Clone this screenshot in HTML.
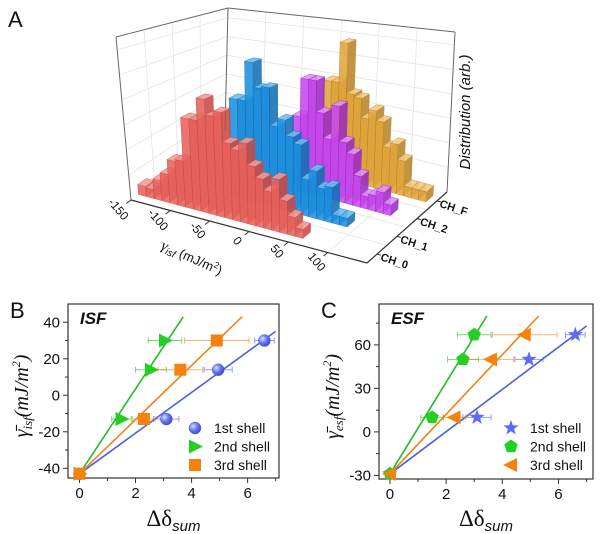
<!DOCTYPE html>
<html><head><meta charset="utf-8"><style>
html,body{margin:0;padding:0;background:#fff;}
svg{display:block;font-family:"Liberation Sans",sans-serif;}
</style></head><body>
<svg id="fig" width="600" height="534" viewBox="0 0 600 534">
<g id="pa"></g>
<g id="pb"></g>
<g id="pc"></g>
</svg>
<script>
// ---------- Panel A data ----------
const seriesNames = ["CH_0","CH_1","CH_2","CH_F"];
const seriesStart = [-150,-60,-10,0];
const binWidth = 10;
const redHeights = [10,9,20,28,43,45,88,88,110,95,100,72,67,75,55,45,35,48,30,17,8];
const blueHeights = [100,100,140,115,117,80,88,73,67,35,45,30,33,8,8];
const magentaHeights = [77,117,117,85,60,95,60,50,30,12,15,20,10];
const goldHeights = [103,103,147,93,90,70,80,70,45,50,35,10,10,10];
const xTicksA = [-150,-100,-50,0,50,100];

// ---------- Panel B data ----------
const bShell1X = [0,3.1,4.95,6.6];
const bShell1Y = [-43,-13,14,30];
const bShell1Err = [0,0.45,0.5,0.35];
const bShell2X = [0,1.5,2.55,3.05];
const bShell2Y = [-43,-13,14,30];
const bShell2Err = [0,0.35,0.55,0.6];
const bShell3X = [0,2.3,3.6,4.9];
const bShell3Y = [-43,-13,14,30];
const bShell3Err = [0,0.4,0.8,1.15];
const bFitEnd = [[7.0,35],[3.7,43],[5.8,43]];
const bYTicks = [-40,-20,0,20,40];
const bXTicks = [0,2,4,6];

// ---------- Panel C data ----------
const cShell1X = [0,3.1,4.95,6.6];
const cShell1Y = [-29,10,50,67];
const cShell1Err = [0,0.5,0.5,0.35];
const cShell2X = [0,1.5,2.6,3.0];
const cShell2Y = [-29,10,50,67];
const cShell2Err = [0,0.4,0.55,0.6];
const cShell3X = [0,2.3,3.6,4.8];
const cShell3Y = [-29,10,50,67];
const cShell3Err = [0,0.4,0.8,1.15];
const cFitEnd = [[7.0,73],[3.45,80],[5.3,80]];
const cYTicks = [-30,0,30,60];
const cXTicks = [0,2,4,6];

const NS="http://www.w3.org/2000/svg";
function mk(tag,attrs,parent){const e=document.createElementNS(NS,tag);for(const k in attrs)e.setAttribute(k,attrs[k]);parent.appendChild(e);return e;}

// ================= Panel A =================
const pa=document.getElementById('pa');
const C={P000:[131,200],P100:[367,263],P010:[225,130],P110:[447,192],P001:[116,37],P101:[375,70],P011:[228,8],P111:[455,32]};
function P3(x,d,z){
  const t=(x+150)/300,u=d,v=z/163;
  const r=[0,0];
  for(let i=0;i<2;i++){
    const a=C.P000[i]*(1-t)+C.P100[i]*t, b=C.P010[i]*(1-t)+C.P110[i]*t;
    const c=C.P001[i]*(1-t)+C.P101[i]*t, e=C.P011[i]*(1-t)+C.P111[i]*t;
    const lo=a*(1-u)+b*u, hi=c*(1-u)+e*u;
    r[i]=lo*(1-v)+hi*v;
  }
  return r;
}
function pts(arr){return arr.map(p=>p[0].toFixed(1)+","+p[1].toFixed(1)).join(" ");}
function line3(a,b,attrs,name){const p=P3(...a),q=P3(...b);const l=mk('line',Object.assign({x1:p[0],y1:p[1],x2:q[0],y2:q[1]},attrs),pa);return l;}
const gridS={stroke:'#e4e4e4','stroke-width':0.8};
// grids
for(const z of [25,50,75,100,125,150]){line3([-150,1,z],[150,1,z],gridS,'back-wall-gridline');line3([-150,0,z],[-150,1,z],gridS,'left-wall-gridline');}
for(const x of [-100,-50,0,50,100]){line3([x,1,0],[x,1,163],gridS,'back-wall-gridline');line3([x,0,0],[x,1,0],gridS,'floor-gridline');}
for(const d of [0.25,0.5,0.75]){line3([-150,d,0],[-150,d,163],gridS,'left-wall-gridline');line3([-150,d,0],[150,d,0],gridS,'floor-gridline');}
// wall edges
const edge={stroke:'#666','stroke-width':1};
line3([-150,0,0],[-150,0,163],edge,'left-wall-edge');
line3([-150,0,163],[-150,1,163],edge,'left-wall-top-edge');
line3([-150,1,0],[-150,1,163],edge,'back-corner-edge');
line3([-150,1,163],[150,1,163],edge,'back-wall-top-edge');
line3([150,1,0],[150,1,163],edge,'back-wall-right-edge');
line3([150,1,0],[150,0,0],{stroke:'#333','stroke-width':1.2},'depth-axis');

const colors=[['#e8625c','#c94b46','#f29a95'],['#1c90e2','#1470b5','#6cbcf0'],['#c848f0','#9c2cc0','#df90f8'],['#e2a63a','#b9852a','#f2cc80']];
const allH=[redHeights,blueHeights,magentaHeights,goldHeights];
const depthC=[0.125,0.375,0.625,0.875];
for(let s=3;s>=0;s--){
  const g=mk('g',{},pa);
  
  
  const hs=allH[s];
  for(let i=0;i<hs.length;i++){
    const x0=seriesStart[s]+i*binWidth,x1=x0+binWidth,d0=depthC[s]-0.045,d1=depthC[s]+0.045,h=hs[i];
    const bg=mk('g',{opacity:0.88},g);
    
    
    mk('polygon',{points:pts([P3(x0,d0,0),P3(x1,d0,0),P3(x1,d0,h),P3(x0,d0,h)]),fill:colors[s][0],stroke:colors[s][1],'stroke-width':0.5},bg);
    mk('polygon',{points:pts([P3(x1,d0,0),P3(x1,d1,0),P3(x1,d1,h),P3(x1,d0,h)]),fill:colors[s][1],stroke:colors[s][1],'stroke-width':0.5},bg);
    mk('polygon',{points:pts([P3(x0,d0,h),P3(x1,d0,h),P3(x1,d1,h),P3(x0,d1,h)]),fill:colors[s][2],stroke:colors[s][1],'stroke-width':0.5},bg);
  }
}
line3([-150,0,0],[150,0,0],{stroke:'#333','stroke-width':1.2},'x-axis-a');
for(const xt of xTicksA){
  line3([xt,0,0],[xt,-0.05,0],{stroke:'#333','stroke-width':1},'x-tick-a');
  const p=P3(xt,-0.14,0);
  const t=mk('text',{x:p[0],y:p[1],'font-size':12,'text-anchor':'middle','dominant-baseline':'middle',transform:`rotate(50 ${p[0]} ${p[1]})`,fill:'#111'},pa);
  t.textContent=xt;
  
  
}
for(let s=0;s<4;s++){
  line3([150,depthC[s],0],[155,depthC[s],0],{stroke:'#333','stroke-width':1},'depth-tick');
  const p=P3(172,depthC[s],0);
  const t=mk('text',{x:p[0],y:p[1]+3,'font-size':11,'font-weight':'bold','text-anchor':'middle','dominant-baseline':'middle',transform:`rotate(18 ${p[0]} ${p[1]+3})`,fill:'#111'},pa);
  t.textContent=seriesNames[s];
  
  
}
</script>
<script>
// static labels for panel A
(function(){
const pa=document.getElementById('pa');
pa.insertAdjacentHTML('beforeend',
`<text x="8" y="27" font-size="22" fill="#111">A</text>
<text x="190" y="262" font-size="13" fill="#111" text-anchor="middle" transform="rotate(24 190 262)"><tspan font-family="Liberation Serif,serif" font-style="italic" font-size="15">γ</tspan><tspan font-style="italic" font-size="10" dy="3">isf</tspan><tspan dy="-3"> (mJ/m</tspan><tspan font-size="9" dy="-5">2</tspan><tspan dy="5">)</tspan></text>
<text x="0" y="0" font-size="15" font-style="italic" fill="#111" text-anchor="middle" transform="translate(470 112) rotate(-90)">Distribution (arb.)</text>`);
})();
</script>
<script>
// ================= Panels B & C =================
function makePanel(gid,box,xr,yr,yTicks,xTicks,minorY,series,fits,letter,tag,ytitleSub,legendX,markerKinds){
  const g=document.getElementById(gid);
  const sx=v=>box.l+(v-xr[0])/(xr[1]-xr[0])*(box.r-box.l);
  const sy=v=>box.b-(v-yr[0])/(yr[1]-yr[0])*(box.b-box.t);
  const fr=mk('rect',{x:box.l,y:box.t,width:box.r-box.l,height:box.b-box.t,fill:'none',stroke:'#333','stroke-width':1.2},g);
  
  
  for(const v of yTicks){
    const tk=mk('line',{x1:box.l,y1:sy(v),x2:box.l-5,y2:sy(v),stroke:'#333','stroke-width':1},g);
    
    
    const t=mk('text',{x:box.l-8,y:sy(v)+5,'font-size':15,'text-anchor':'end',fill:'#111'},g);
    t.textContent=v;
    
    
  }
  for(const v of minorY){
    const tk=mk('line',{x1:box.l,y1:sy(v),x2:box.l-3,y2:sy(v),stroke:'#333','stroke-width':1},g);
    
    
  }
  for(const v of xTicks){
    const tk=mk('line',{x1:sx(v),y1:box.b,x2:sx(v),y2:box.b+5,stroke:'#333','stroke-width':1},g);
    
    
    const m=mk('line',{x1:sx(v+1),y1:box.b,x2:sx(v+1),y2:box.b+3,stroke:'#333','stroke-width':1},g);
    
    
    const t=mk('text',{x:sx(v),y:box.b+20,'font-size':15,'text-anchor':'middle',fill:'#111'},g);
    t.textContent=v;
    
    
  }
  const cols=['#4a5fe0','#22bb22','#f28014'];
  const fills=['#5b6cf5','#22d022','#f5820f'];
  // fit lines
  fits.forEach((f,k)=>{
    const l=mk('line',{x1:sx(0),y1:sy(series[k].y[0]),x2:sx(f[0]),y2:sy(f[1]),stroke:cols[k],'stroke-width':1.6},g);
    
    
  });
  function marker(kind,cx,cy,k,parent){
    let e;
    if(kind==='circle'){e=mk('circle',{cx,cy,r:6,fill:'url(#sph)',stroke:'#4a5fe0','stroke-width':0.5},parent);}
    else if(kind==='tri-right'){e=mk('polygon',{points:`${cx-6},${cy-7} ${cx+8},${cy} ${cx-6},${cy+7}`,fill:fills[k]},parent);}
    else if(kind==='tri-left'){e=mk('polygon',{points:`${cx+6},${cy-7} ${cx-8},${cy} ${cx+6},${cy+7}`,fill:fills[k]},parent);}
    else if(kind==='square'){e=mk('rect',{x:cx-6,y:cy-6,width:12,height:12,fill:fills[k]},parent);}
    else if(kind==='pent'){let p=[];for(let i=0;i<5;i++){const a=-Math.PI/2+i*2*Math.PI/5;p.push((cx+7*Math.cos(a)).toFixed(1)+","+(cy+7*Math.sin(a)).toFixed(1));}e=mk('polygon',{points:p.join(' '),fill:fills[k]},parent);}
    else {let p=[];for(let i=0;i<10;i++){const a=-Math.PI/2+i*Math.PI/5,r=i%2?3.3:8;p.push((cx+r*Math.cos(a)).toFixed(1)+","+(cy+r*Math.sin(a)).toFixed(1));}e=mk('polygon',{points:p.join(' '),fill:fills[k]},parent);}
    return e;
  }
  series.forEach((s,k)=>{
    const sg=mk('g',{},g);
    
    
    for(let i=0;i<s.x.length;i++){
      const cy=sy(s.y[i]);
      if(s.e[i]>0){
        const a=sx(s.x[i]-s.e[i]),b=sx(s.x[i]+s.e[i]);
        const eb=mk('path',{d:`M${a},${cy}H${b}M${a},${cy-3}V${cy+3}M${b},${cy-3}V${cy+3}`,stroke:cols[k],'stroke-width':1,'stroke-opacity':0.6,fill:'none'},sg);
        
        
      }
      const m=marker(markerKinds[k],sx(s.x[i]),cy,k,sg);
      
      
    }
  });
  const names=['1st  shell','2nd shell','3rd  shell'];
  for(let k=0;k<3;k++){
    const y=428+k*18.5;
    const lg=mk('g',{},g);
    
    
    marker(markerKinds[k],legendX,y,k,lg);
    const t=mk('text',{x:legendX+19,y:y+5,'font-size':14,fill:'#111','xml:space':'preserve'},lg);
    t.textContent=names[k];
  }
  g.insertAdjacentHTML('beforeend',
  `<text x="${box.l-58}" y="${box.t+14}" font-size="22" fill="#111">${letter}</text>
   <text x="${box.l+12}" y="${box.t+20}" font-size="17" font-weight="bold" font-style="italic" fill="#111">${tag}</text>
   <text x="${(box.l+box.r)/2}" y="526" text-anchor="middle" fill="#111"><tspan font-family="Liberation Serif,serif" font-size="23">Δδ</tspan><tspan font-size="15" font-style="italic" dy="5">sum</tspan></text>
   <text transform="translate(${box.l-40} ${(box.t+box.b)/2+5}) rotate(-90)" text-anchor="middle" fill="#111" font-family="Liberation Serif,serif" font-style="italic"><tspan font-size="20">γ̄</tspan><tspan font-size="13" dy="4">${ytitleSub}</tspan><tspan font-size="20" dy="-4">(mJ/m</tspan><tspan font-size="12" dy="-8">2</tspan><tspan font-size="20" dy="8">)</tspan></text>`);
}
document.getElementById('fig').insertAdjacentHTML('afterbegin','<defs><radialGradient id="sph" cx="0.35" cy="0.35" r="0.7"><stop offset="0" stop-color="#d8dcff"/><stop offset="0.5" stop-color="#6a78f2"/><stop offset="1" stop-color="#3a48c8"/></radialGradient></defs>');
makePanel('pb',{l:68,r:279,t:304,b:478},[-0.41,7.12],[-45.3,50],bYTicks,bXTicks,[-30,-10,10,30],
  [{x:bShell1X,y:bShell1Y,e:bShell1Err},{x:bShell2X,y:bShell2Y,e:bShell2Err},{x:bShell3X,y:bShell3Y,e:bShell3Err}],
  bFitEnd,'B','ISF','isf',195,['circle','tri-right','square']);
makePanel('pc',{l:379,r:593,t:304,b:479},[-0.39,7.23],[-32.5,88.2],cYTicks,cXTicks,[-15,15,45,75],
  [{x:cShell1X,y:cShell1Y,e:cShell1Err},{x:cShell2X,y:cShell2Y,e:cShell2Err},{x:cShell3X,y:cShell3Y,e:cShell3Err}],
  cFitEnd,'C','ESF','esf',511,['star','pent','tri-left']);
</script>
</body></html>
